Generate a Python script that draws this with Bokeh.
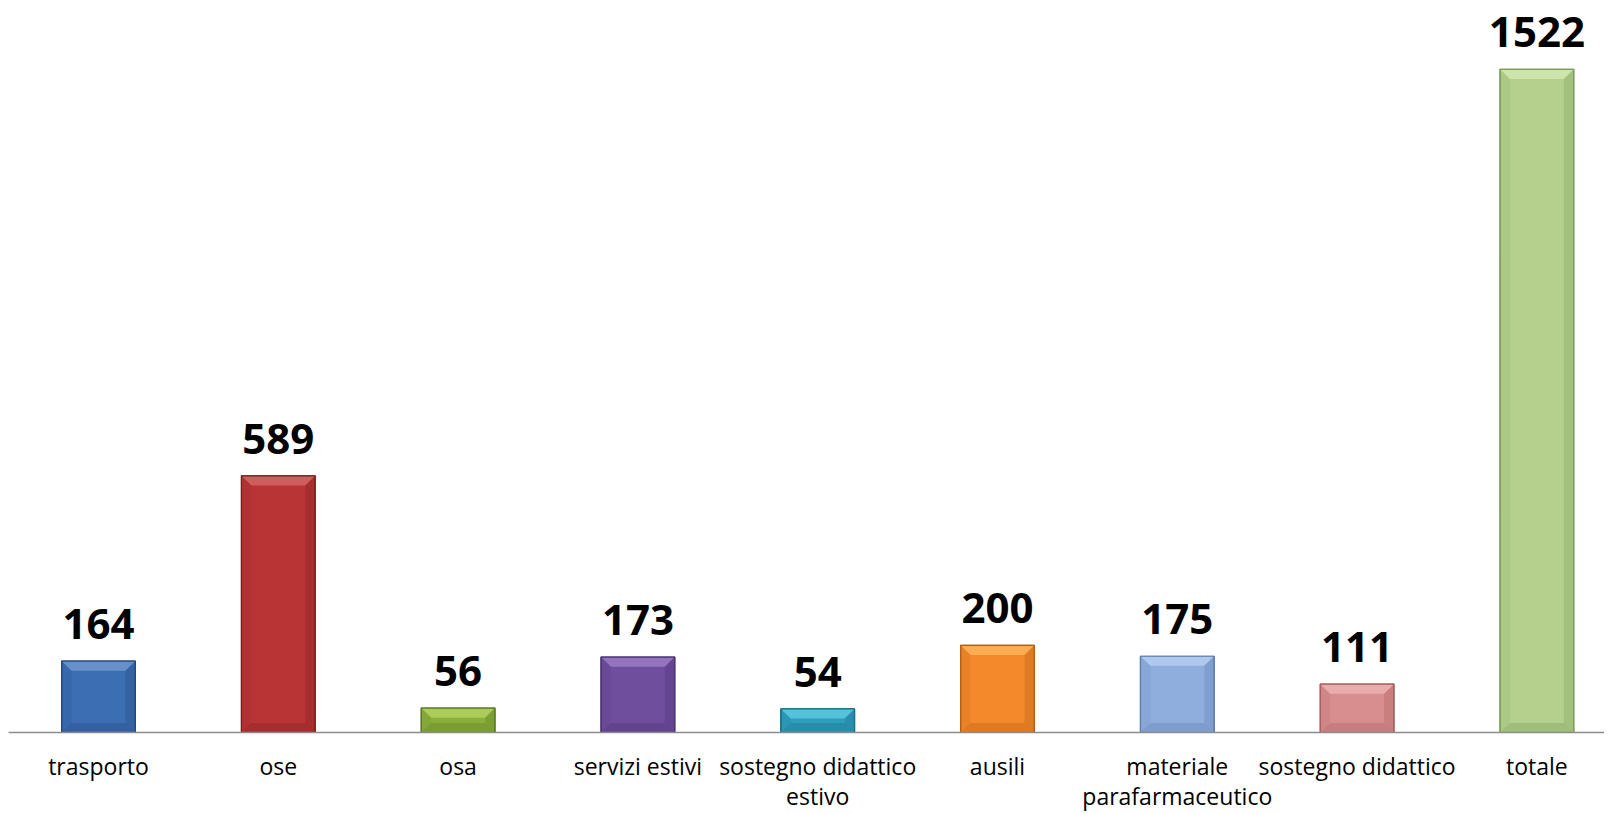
from bokeh.plotting import figure
from bokeh.models import Range1d, FixedTicker, ColumnDataSource
from bokeh.core.properties import value
from bokeh.embed import file_html
from bokeh.resources import INLINE

categories = ["trasporto", "ose", "osa", "servizi estivi", "sostegno didattico\nestivo",
              "ausili", "materiale\nparafarmaceutico", "sostegno didattico", "totale"]
values = [164, 589, 56, 173, 54, 200, 175, 111, 1522]
colors = ["#3C6EB4", "#B93535", "#8AB03C", "#704E9E", "#2F9EBE",
          "#F3892A", "#90AEDD", "#D88E8E", "#B4D08C"]
light = ["#6F97CF", "#D46464", "#B0D060", "#9A7AC4", "#5CC8E2",
         "#FBB25C", "#B5CDF0", "#EDB0B0", "#D2E8B2"]
dark = ["#24497E", "#7E1F1F", "#5C7A22", "#4A3270", "#1C6E86",
        "#B45E14", "#5E7CB0", "#A85E5E", "#7E9A5C"]

W, H = 1604, 814
x = list(range(len(categories)))

p = figure(width=W, height=H, output_backend="svg", toolbar_location=None,
           x_range=Range1d(-0.5006, 8.376), y_range=Range1d(0, 1680),
           min_border_top=0, min_border_left=8, min_border_right=0, min_border_bottom=78)
p.outline_line_color = None
p.xgrid.visible = False
p.ygrid.visible = False
p.yaxis.visible = False
p.background_fill_color = "white"
p.border_fill_color = "white"

bw = 0.41
dx = 0.055
dy = 22

src = ColumnDataSource(dict(x=x, top=values, color=colors, light=light, dark=dark,
                            label=[str(v) for v in values]))
p.vbar(x="x", top="top", bottom=0, width=bw, fill_color="color", line_color="dark",
       line_width=1.2, source=src)

tx, ty, bx, by, lxs, lys, rxs, rys = [], [], [], [], [], [], [], []
for xi, v in zip(x, values):
    l, r = xi - bw / 2, xi + bw / 2
    d = min(dy, v / 2)
    tx.append([l, r, r - dx, l + dx]); ty.append([v, v, v - d, v - d])
    bx.append([l, r, r - dx, l + dx]); by.append([0, 0, d, d])
    lxs.append([l, l + dx, l + dx, l]); lys.append([0, d, v - d, v])
    rxs.append([r, r - dx, r - dx, r]); rys.append([0, d, v - d, v])
p.patches(tx, ty, fill_color=light, fill_alpha=0.85, line_color=None)
p.patches(bx, by, fill_color=dark, fill_alpha=0.35, line_color=None)
p.patches(lxs, lys, fill_color=dark, fill_alpha=0.15, line_color=None)
p.patches(rxs, rys, fill_color=dark, fill_alpha=0.3, line_color=None)
p.vbar(x="x", top="top", bottom=0, width=bw, fill_color=None, line_color="dark",
       line_width=1.2, source=src)

p.text(x="x", y="top", text="label", source=src, y_offset=-37,
       text_align="center", text_baseline="alphabetic",
       text_font=value("Open Sans"), text_font_style="bold",
       text_font_size="42px", text_color="black")

ax = p.xaxis[0]
ax.ticker = FixedTicker(ticks=x)
ax.major_label_overrides = {i: c for i, c in zip(x, categories)}
ax.major_label_text_font = "Open Sans"
ax.major_label_text_font_size = "23px"
ax.major_label_text_line_height = 0.95
ax.major_label_text_color = "black"
ax.major_label_standoff = 17
ax.major_tick_line_color = None
ax.major_tick_out = 0
ax.minor_tick_line_color = None
ax.axis_line_color = "#8C8C8C"
ax.axis_line_width = 1.5

open("out.html", "w").write(file_html(p, INLINE))
